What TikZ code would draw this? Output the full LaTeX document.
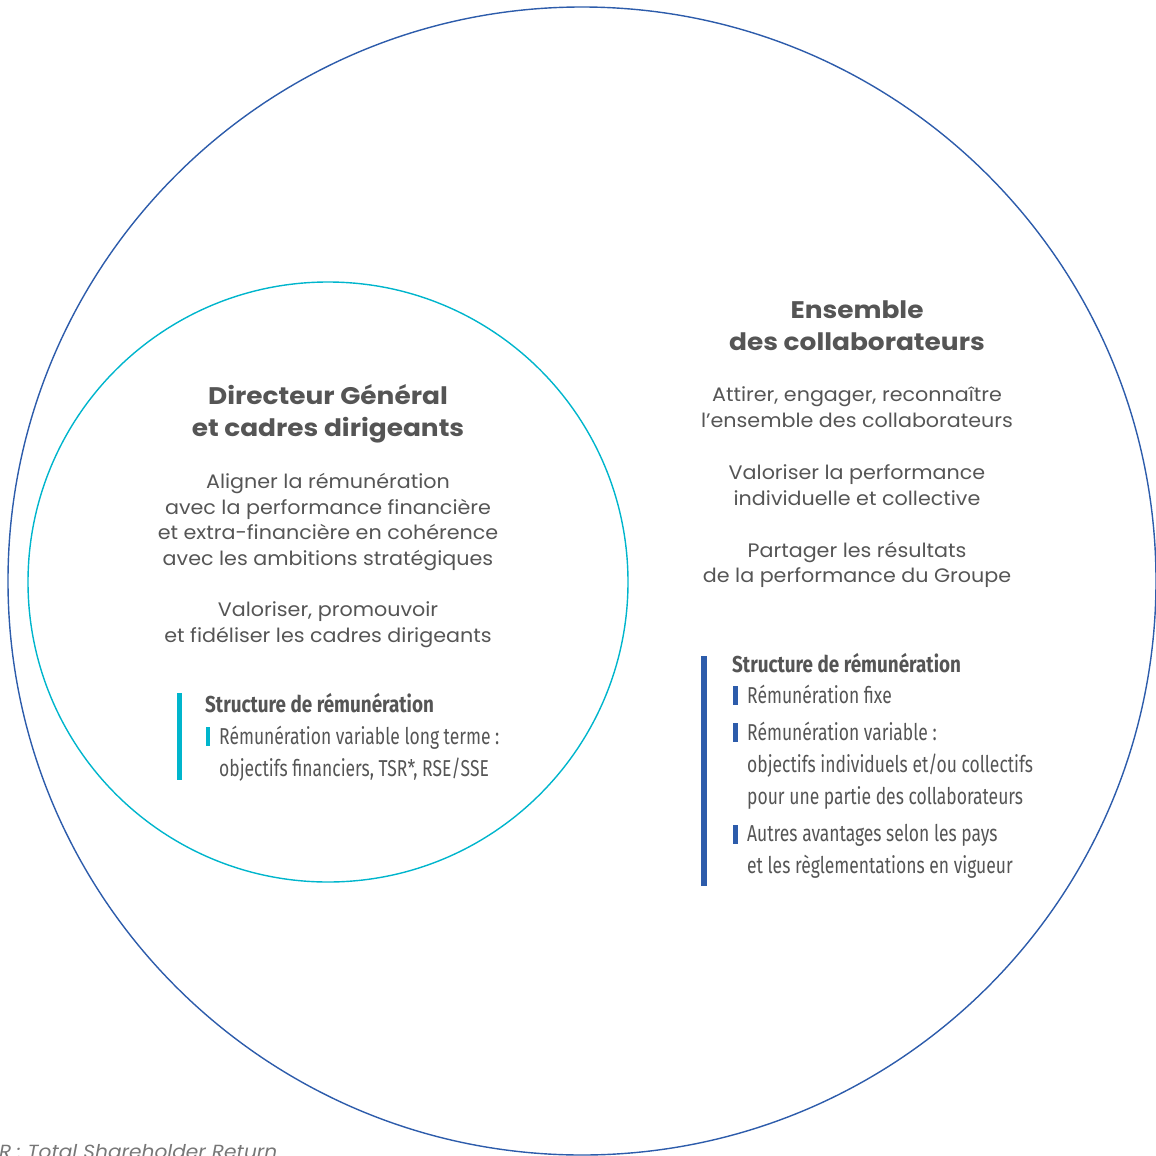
\documentclass[tikz,border=0pt]{standalone}
\usepackage{fontspec}
\newfontfamily\titlefont[FakeStretch=1.1]{Poppins}
\newfontfamily\bodyfont[FakeStretch=1.06]{Poppins}
\newfontfamily\condfont[FakeStretch=0.76,BoldFeatures={FakeStretch=0.82}]{Fira Sans}
\definecolor{txtgray}{HTML}{555555}
\definecolor{cadrecyan}{HTML}{00B5CC}
\definecolor{groupblue}{HTML}{2D5CAB}
\begin{document}
\begin{tikzpicture}[x=1pt,y=-1pt,
  heading/.style={text=txtgray,align=center,inner sep=0pt,font=\titlefont\bfseries\fontsize{24}{32}\selectfont},
  body/.style={text=txtgray,align=center,inner sep=0pt,font=\bodyfont\fontsize{19.5}{25.7}\selectfont},
  structtitle/.style={text=txtgray,anchor=west,inner sep=0pt,font=\condfont\bfseries\fontsize{23}{32}\selectfont},
  structitem/.style={text=txtgray,anchor=north west,inner sep=0pt,align=left,font=\condfont\fontsize{23}{32}\selectfont}]
\useasboundingbox (0,0) rectangle (1156,1156);
\clip (0,0) rectangle (1156,1156);
% circles
\draw[groupblue,line width=1.4pt] (582,581) circle (574);
\draw[cadrecyan,line width=1.4pt] (328,582) circle (300);
% dirigeants
\node[heading] (dirTitle) at (328,414) {Directeur Général\\et cadres dirigeants};
\node[body] (dirAlign) at (328,522) {Aligner la rémunération\\avec la performance financière\\et extra-financière en cohérence\\avec les ambitions stratégiques};
\node[body] (dirValo) at (328,625) {Valoriser, promouvoir\\et fidéliser les cadres dirigeants};
\fill[cadrecyan] (177,693) rectangle (182,780);
\node[structtitle] (dirStruct) at (205,703) {Structure de rémunération};
\fill[cadrecyan] (206,727) rectangle (210,746);
\node[structitem] (dirItem) at (219,726) {Rémunération variable long terme :\\objectifs financiers, TSR*, RSE/SSE};
% collaborateurs
\node[heading] (colTitle) at (857,326) {Ensemble\\des collaborateurs};
\node[body] (colAttir) at (857,407) {Attirer, engager, reconnaître\\l’ensemble des collaborateurs};
\node[body] (colValo) at (857,485) {Valoriser la performance\\individuelle et collective};
\node[body] (colPart) at (857,565) {Partager les résultats\\de la performance du Groupe};
\fill[groupblue] (701,656) rectangle (707,886);
\node[structtitle] (colStruct) at (732,663) {Structure de rémunération};
\fill[groupblue] (733,686) rectangle (738,705);
\node[structitem] (colFixe) at (747,685) {Rémunération fixe};
\fill[groupblue] (733,723) rectangle (738,742);
\node[structitem] (colVar) at (747,722) {Rémunération variable :\\objectifs individuels et/ou collectifs\\pour une partie des collaborateurs};
\fill[groupblue] (733,825) rectangle (738,844);
\node[structitem] (colAutres) at (747,824) {Autres avantages selon les pays\\et les règlementations en vigueur};
% note
\node[anchor=west,inner sep=0pt,text=txtgray!80,font=\bodyfont\itshape\fontsize{19}{22}\selectfont] (note) at (-1,1152) {R : Total Shareholder Return};
\end{tikzpicture}
\end{document}
